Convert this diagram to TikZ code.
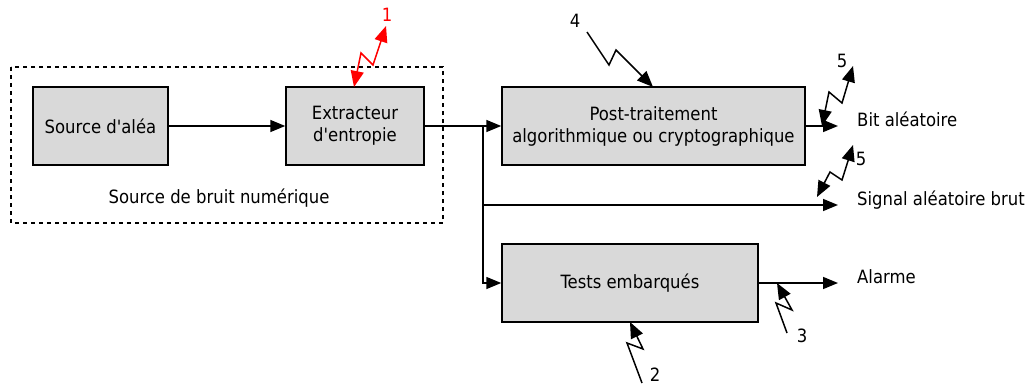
\documentclass[tikz,border=0pt]{standalone}
\usepackage{fontspec}
\setmainfont{DejaVu Sans Condensed}[Ligatures=TeXOff]
\usetikzlibrary{arrows.meta}
\definecolor{boxgray}{HTML}{D9D9D9}
\tikzset{
  blockbox/.style={draw, fill=boxgray, line width=1.5pt, inner sep=0pt, align=center},
  conn/.style={line width=1.5pt, -{Triangle[length=15pt,width=12pt]}},
  bolt/.style={line width=1.5pt},
  boltend/.style={-{Triangle[length=16pt,width=13pt]}},
  boltboth/.style={{Triangle[length=16pt,width=13pt]}-{Triangle[length=16pt,width=13pt]}},
  outlabel/.style={anchor=base west, inner sep=0pt},
  numlabel/.style={inner sep=0pt},
  frame/.style={line width=1.8pt, dash pattern=on 4pt off 4pt}
}
\begin{document}
\begin{tikzpicture}[x=1pt, y=-1pt, font=\fontsize{18.3}{22}\selectfont]
\useasboundingbox (0,0) rectangle (1027,385);

% dashed frame
\draw[frame] (11,67) rectangle (443,223);
\node (frametitle) at (219,198) {Source de bruit numérique};

% blocks
\node[blockbox, minimum width=135pt, minimum height=78pt] (src) at (100.5,126) {Source d'aléa};
\node[blockbox, minimum width=138pt, minimum height=78pt] (ext) at (355,126) {Extracteur\\d'entropie};
\node[blockbox, minimum width=303pt, minimum height=78pt] (post) at (653.5,126) {Post-traitement\\algorithmique ou cryptographique};
\node[blockbox, minimum width=256pt, minimum height=78pt] (tests) at (630,283) {Tests embarqués};

% outputs
\node[outlabel] (bit) at (857,126) {Bit aléatoire};
\node[outlabel] (sig) at (857,205) {Signal aléatoire brut};
\node[outlabel] (alarm) at (857,283) {Alarme};
\coordinate (bitend) at (838,126);
\coordinate (sigend) at (838,205);
\coordinate (alarmend) at (838,283);
\coordinate (j1) at (483,126);
\coordinate (j2) at (483,205);

% connectors
\draw[conn] (src.east) -- (ext.west);
\draw[conn] (ext.east) -- (post.west);
\draw[line width=1.5pt] (j1) -- (j2);
\draw[conn] (j2) |- (tests.west);
\draw[conn] (j2) -- (sigend);
\draw[conn] (post.east) -- (bitend);
\draw[conn] (tests.east) -- (alarmend);

% attack bolts
\draw[bolt, boltboth, red] (354,87) -- (361,53) -- (373,65) -- (386,26);
\node[numlabel, red] (n1) at (387,15) {1};
\draw[bolt, boltend] (587,32) -- (609,65) -- (616,50) -- (653,87);
\node[numlabel] (n4) at (575,21) {4};
\draw[bolt, boltboth] (822,126) -- (829,92) -- (842,103) -- (853,66);
\node[numlabel] (n5a) at (842,61) {5};
\draw[bolt, boltboth] (817,197) -- (830,172) -- (842,180) -- (853,145);
\node[numlabel] (n5b) at (861,159) {5};
\draw[bolt, boltend] (642,383) -- (627,343) -- (643,349) -- (630,322);
\node[numlabel] (n2) at (655,375) {2};
\draw[bolt, boltend] (787,333) -- (776,303) -- (792,310) -- (777,283);
\node[numlabel] (n3) at (802,336) {3};
\end{tikzpicture}
\end{document}
